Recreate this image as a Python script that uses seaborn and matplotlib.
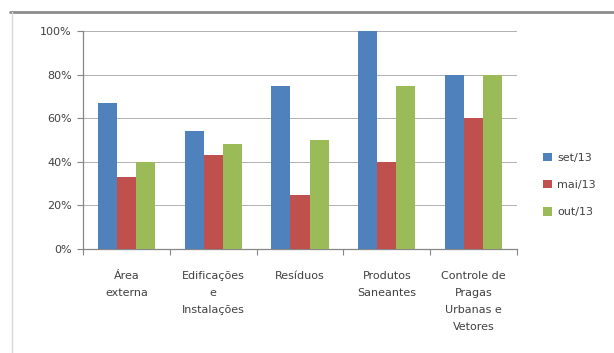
import matplotlib
matplotlib.use("Agg")
import matplotlib.pyplot as plt
from matplotlib.lines import Line2D
from matplotlib.ticker import FixedLocator, FuncFormatter
import pandas as pd
import seaborn as sns

categories = ["Área\nexterna", "Edificações\ne\nInstalações", "Resíduos",
              "Produtos\nSaneantes", "Controle de\nPragas\nUrbanas e\nVetores"]
periods = ["set/13", "mai/13", "out/13"]
set13 = [67, 54, 75, 100, 80]
mai13 = [33, 43, 25, 40, 60]
out13 = [40, 48, 50, 75, 80]
y_ticks = [0, 20, 40, 60, 80, 100]

colors = ["#4F81BD", "#C0504D", "#9BBB59"]

df = pd.DataFrame({
    "categoria": categories * 3,
    "periodo": [p for p in periods for _ in categories],
    "valor": set13 + mai13 + out13,
})

sns.set_theme(style="white")
plt.rcParams["font.family"] = ["DejaVu Sans"]
text_color = "#404040"

fig = plt.figure(figsize=(6.14, 3.53), dpi=100)
ax = fig.add_axes([83 / 614, 1 - 249 / 353, 434 / 614, 218 / 353])

sns.barplot(data=df, x="categoria", y="valor", hue="periodo", order=categories,
            hue_order=periods, palette=colors, width=0.66, saturation=1,
            linewidth=0, ax=ax, zorder=3)

ax.set_ylim(0, 100)
ax.set_xlim(-0.5, len(categories) - 0.5)
ax.yaxis.set_major_locator(FixedLocator(y_ticks))
ax.yaxis.set_major_formatter(FuncFormatter(lambda v, _: f"{v:.0f}%"))
ax.grid(axis="y", color="#b0b0b0", linewidth=0.7, zorder=0)
ax.set_axisbelow(True)
ax.set_xlabel("")
ax.set_ylabel("")

for side in ("top", "right"):
    ax.spines[side].set_visible(False)
for side in ("left", "bottom"):
    ax.spines[side].set_color("#868686")
    ax.spines[side].set_linewidth(0.9)

ax.tick_params(axis="y", which="major", direction="out", length=4, width=0.8,
               color="#868686", left=True, pad=4, labelsize=8, labelcolor=text_color)
ax.tick_params(axis="x", which="major", length=0, pad=16, labelsize=8,
               labelcolor=text_color)
ax.xaxis.set_minor_locator(FixedLocator([i + 0.5 for i in range(-1, len(categories))]))
ax.tick_params(axis="x", which="minor", direction="out", length=4, width=0.8,
               color="#868686", bottom=True)
for lbl in ax.get_xticklabels():
    lbl.set_linespacing(1.85)
    lbl.set_verticalalignment("top")

handles, labels = ax.get_legend_handles_labels()
ax.legend_.remove()
fig.legend(handles, labels, loc="center left", bbox_to_anchor=(543 / 614, 1 - 185 / 353),
           frameon=False, fontsize=8, labelcolor=text_color, handlelength=0.8,
           handleheight=0.8, handletextpad=0.5, labelspacing=1.55,
           borderpad=0, borderaxespad=0)

# chart frame edges
fig.add_artist(Line2D([10 / 614, 1], [1 - 12 / 353, 1 - 12 / 353],
                      transform=fig.transFigure, color="#8c8c8c", linewidth=2))
fig.add_artist(Line2D([12 / 614, 12 / 614], [0, 1 - 12 / 353],
                      transform=fig.transFigure, color="#d9d9d9", linewidth=1))

fig.savefig("out.png", dpi=100)
